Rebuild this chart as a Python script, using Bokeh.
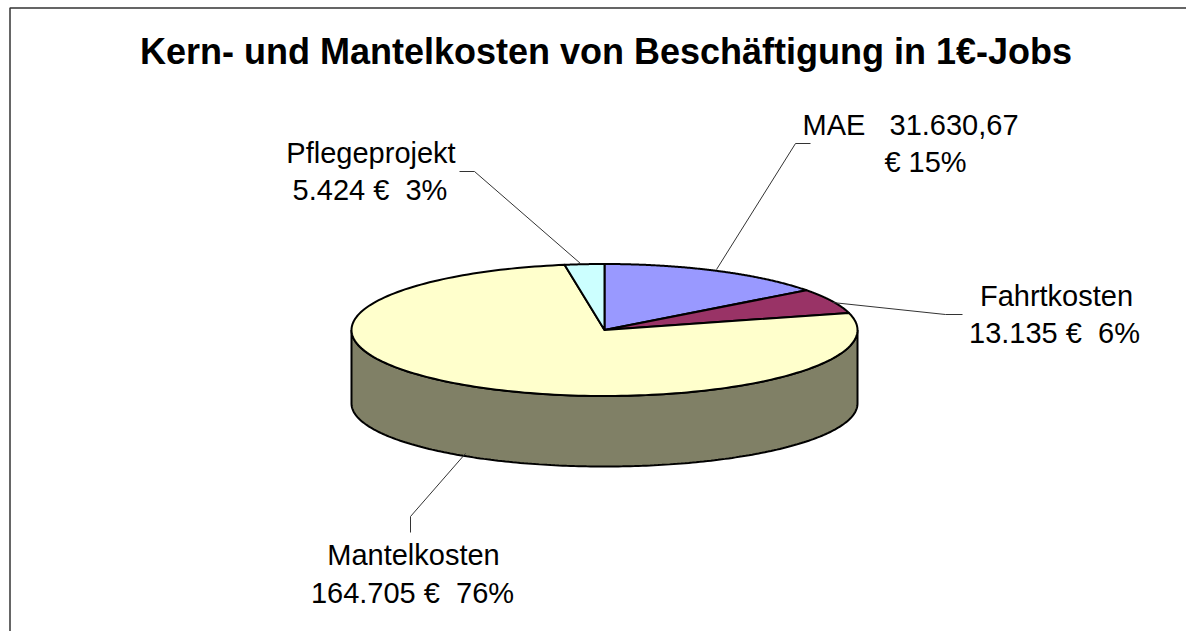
import numpy as np
from bokeh.embed import file_html
from bokeh.resources import INLINE
from bokeh.plotting import figure
from bokeh.models import Range1d
from bokeh.core.properties import value

# Data
categories = ["MAE", "Fahrtkosten", "Mantelkosten", "Pflegeprojekt"]
amounts = [31630.67, 13135, 164705, 5424]
colors = ["#9999FF", "#993366", "#FFFFCC", "#CCFFFF"]
title = "Kern- und Mantelkosten von Beschäftigung in 1€-Jobs"
NB = "\u00a0"
label_lines = [
    [f"MAE{NB}{NB} 31.630,67", "€ 15%"],
    ["Fahrtkosten", f"13.135 €{NB} 6%"],
    ["Mantelkosten", f"164.705 €{NB} 76%"],
    ["Pflegeprojekt", f"5.424 €{NB} 3%"],
]
# per label: centre x and vertical centre y of each line (page pixels)
label_x = [(910, 925), (1056, 1054), (413, 412), (370.5, 369.5)]
label_y = [(124.5, 161.5), (295.5, 332.5), (554.5, 592.5), (152.5, 189.5)]
leaders = [
    ([810, 795, 716], [143, 143, 269]),
    ([962, 945, 832], [314, 314, 302]),
    ([410, 410, 465], [532, 516, 453]),
    ([459, 474, 580], [171, 171, 263]),
]

# Pie geometry (page pixels)
CX, CY, RX, RY = 604, 329.5, 253, 66
BOTTOM_CY, BOTTOM_RY = 403, 63
SIDE_COLOR = "#808066"
W, H = 1186, 631

p = figure(width=W, height=H, output_backend="svg", toolbar_location=None,
           x_range=Range1d(0, W), y_range=Range1d(H, 0),
           min_border=0, outline_line_color=None, background_fill_color="white",
           border_fill_color="white")
p.axis.visible = False
p.grid.visible = False

# frame: top and left only
p.line([W, 9.5, 9.5], [7.5, 7.5, H], line_color="#333333", line_width=1.5)

# side wall
t = np.linspace(np.pi / 2, 3 * np.pi / 2, 200)
top_x = CX + RX * np.sin(t)
top_y = CY - RY * np.cos(t)
bot_y = BOTTOM_CY - BOTTOM_RY * np.cos(t)
p.patch(np.r_[top_x, top_x[::-1]], np.r_[top_y, bot_y[::-1]], fill_color=SIDE_COLOR,
        line_color="black", line_width=2)

# top slices
fr = np.cumsum([0] + amounts) / sum(amounts) * 2 * np.pi
for a0, a1, c in zip(fr[:-1], fr[1:], colors):
    t = np.linspace(a0, a1, 200)
    xs = np.r_[CX, CX + RX * np.sin(t)]
    ys = np.r_[CY, CY - RY * np.cos(t)]
    p.patch(xs, ys, fill_color=c, line_color="black", line_width=2, line_join="round")

# leaders
for (lx, ly) in leaders:
    p.line(lx, ly, line_color="#333333", line_width=1)

# texts
p.text([605.5], [50.5], text=[title], text_font=value("Liberation Sans"), text_font_style="bold",
       text_font_size="36px", text_align="center", text_baseline="middle", text_color="black")
for lines, xs_, ys_ in zip(label_lines, label_x, label_y):
    for s, x, y in zip(lines, xs_, ys_):
        p.text([x], [y], text=[s], text_font=value("Liberation Sans"),
               text_font_size="29px", text_align="center", text_baseline="middle",
               text_color="black")

open("out.html", "w").write(file_html(p, INLINE))
